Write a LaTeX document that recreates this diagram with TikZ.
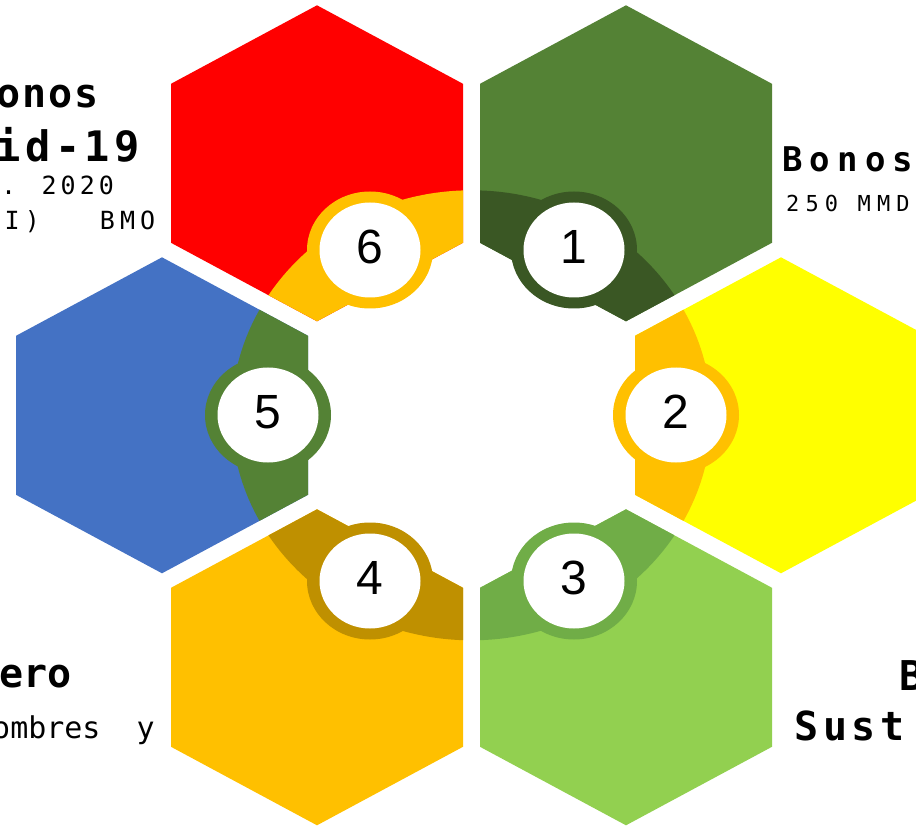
\documentclass[tikz,border=0pt]{standalone}
\usepackage{fontspec}
\setmainfont{Liberation Sans}
\newfontfamily\monofont{DejaVu Sans Mono}
\definecolor{cRed}{HTML}{FF0000}
\definecolor{cGreen}{HTML}{548235}
\definecolor{cDkGreen}{HTML}{3A5724}
\definecolor{cYellow}{HTML}{FFFF00}
\definecolor{cGold}{HTML}{FFC000}
\definecolor{cLtGreen}{HTML}{92D050}
\definecolor{cMidGreen}{HTML}{70AD47}
\definecolor{cDkGold}{HTML}{BF9000}
\definecolor{cBlue}{HTML}{4472C4}
\tikzset{
  numlabel/.style={inner sep=0pt, font=\fontsize{48}{48}\selectfont, text=black},
  bigtitle/.style={inner sep=0pt, anchor=base west, text=black},
  smalltext/.style={inner sep=0pt, anchor=base west, text=black},
}
\begin{document}
\begin{tikzpicture}[x=1pt,y=-1pt]
\useasboundingbox (0,0) rectangle (916,826);
\clip (0,0) rectangle (916,826);
% hexagons with their bands (intersection with the central ellipse)
\foreach \cx/\cy/\hc/\bc in {317/163.3/cRed/cGold, 626/163.3/cGreen/cDkGreen, 781/415.3/cYellow/cGold, 626/667.3/cLtGreen/cMidGreen, 317/667.3/cGold/cDkGold, 162/415.3/cBlue/cGreen}{
  \fill[\hc] (\cx,\cy-158) -- (\cx+146,\cy-79.5) -- (\cx+146,\cy+79.5) -- (\cx,\cy+158) -- (\cx-146,\cy+79.5) -- (\cx-146,\cy-79.5) -- cycle;
  \begin{scope}
    \clip (\cx,\cy-158) -- (\cx+146,\cy-79.5) -- (\cx+146,\cy+79.5) -- (\cx,\cy+158) -- (\cx-146,\cy+79.5) -- (\cx-146,\cy-79.5) -- cycle;
    \fill[\bc] (471.5,415.3) ellipse [x radius=240pt, y radius=225pt];
  \end{scope}
}
% number badges
\foreach \px/\py/\rc in {370/250/cGold, 574/250/cDkGreen, 676/415/cGold, 574/581/cMidGreen, 370/581/cDkGold, 268/415/cGreen}{
  \fill[\rc] (\px,\py) ellipse [x radius=63pt, y radius=58.5pt];
  \fill[white] (\px,\py) ellipse [x radius=50.5pt, y radius=47.5pt];
}
\node[numlabel] (n1) at (574,247) {1};
\node[numlabel] (n2) at (676,412) {2};
\node[numlabel] (n3) at (574,578) {3};
\node[numlabel] (n4) at (370,578) {4};
\node[numlabel] (n5) at (268,412) {5};
\node[numlabel] (n6) at (370,247) {6};
% texts
\node[bigtitle, font={\monofont\bfseries\fontsize{40}{40}\selectfont\addfontfeature{LetterSpace=5}}] (t6a) at (-4,108) {onos};
\node[bigtitle, font={\monofont\bfseries\fontsize{42}{42}\selectfont\addfontfeature{LetterSpace=11}}] (t6b) at (-5,162) {id-19};
\node[smalltext, font={\monofont\fontsize{25}{25}\selectfont\addfontfeature{LetterSpace=16}}] (t6c) at (1,195) {. 2020};
\node[smalltext, font={\monofont\fontsize{25}{25}\selectfont\addfontfeature{LetterSpace=20}}] (t6d) at (4.5,230) {I)\ \ \ BMO};
\node[bigtitle, font={\monofont\bfseries\fontsize{34}{34}\selectfont\addfontfeature{LetterSpace=21}}] (t1a) at (782,172) {Bonos};
\node[smalltext, font={\monofont\fontsize{22}{22}\selectfont\addfontfeature{LetterSpace=28}}] (t1b) at (786,212) {250 MMD};
\node[bigtitle, font={\monofont\bfseries\fontsize{40}{40}\selectfont}] (t4a) at (-1,687) {ero};
\node[smalltext, font={\monofont\fontsize{30}{30}\selectfont}] (t4b) at (-8,738) {ombres\ \ y};
\node[bigtitle, font={\monofont\bfseries\fontsize{41}{41}\selectfont}] (t3a) at (899,690) {B};
\node[bigtitle, font={\monofont\bfseries\fontsize{40}{40}\selectfont\addfontfeature{LetterSpace=12}}] (t3b) at (794,740) {Sust};
\end{tikzpicture}
\end{document}
